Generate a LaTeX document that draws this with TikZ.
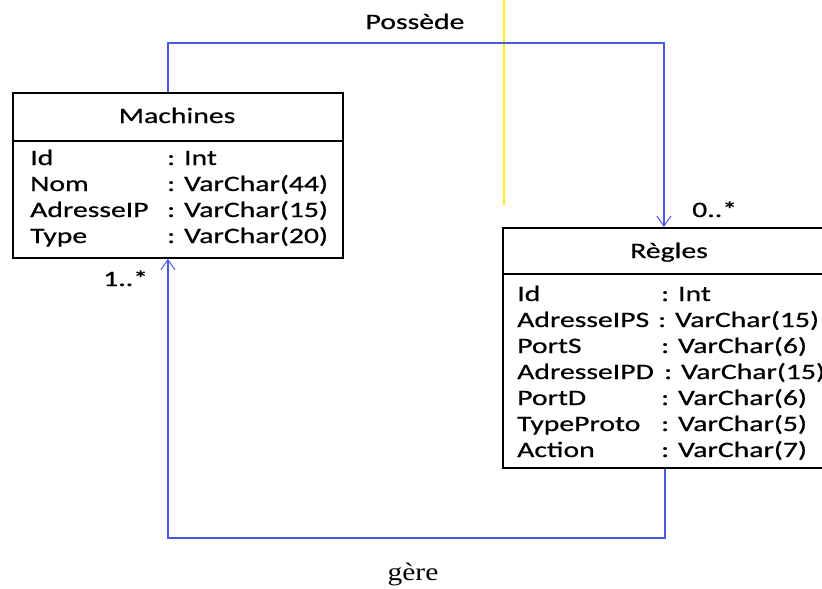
\documentclass[tikz,border=0pt]{standalone}
\usepackage{fontspec}
\newfontfamily\umlfont[FakeStretch=1.35,FakeBold=0.6]{Carlito}
\newfontfamily\captionfont[FakeStretch=1.18]{Liberation Serif}
\usetikzlibrary{arrows.meta}
\definecolor{linkblue}{RGB}{75,90,230}
\definecolor{markyellow}{RGB}{250,235,30}
\begin{document}
\begin{tikzpicture}[x=1pt,y=-1pt,
  umltext/.style={font=\umlfont\fontsize{22}{26}\selectfont, text=black, inner sep=0pt},
  attr/.style={umltext, anchor=base west},
  classtitle/.style={umltext, anchor=base},
  classbox/.style={draw=black, line width=1.8pt, minimum width=#1, anchor=north west, inner sep=0pt},
  classline/.style={draw=black, line width=1.8pt},
  link/.style={draw=linkblue, line width=1.3pt,
    -{Straight Barb[length=10pt,width=14pt,line width=1pt]}},
  yellowmark/.style={draw=markyellow, line width=1.5pt}
]
\useasboundingbox (0,0) rectangle (822,589);
\clip (0,0) rectangle (822,589);
\fill[white] (0,0) rectangle (822,589);

% stray vertical mark
\draw[yellowmark] (504,0) -- (504,205);

% class Machines
\node[classbox=330pt, minimum height=165pt] (mach) at (12,92) {};
\draw[classline] (mach.west |- 0,141) -- (mach.east |- 0,141);
\node[classtitle] (machT) at (177,123) {Machines};
\node[attr] (m1a) at (30,165) {Id};
\node[attr] (m1b) at (167,165) {: Int};
\node[attr] (m2a) at (30,191) {Nom};
\node[attr] (m2b) at (167,191) {: VarChar(44)};
\node[attr] (m3a) at (30,217) {AdresseIP};
\node[attr] (m3b) at (167,217) {: VarChar(15)};
\node[attr] (m4a) at (30,243) {Type};
\node[attr] (m4b) at (167,243) {: VarChar(20)};

% class Règles
\node[classbox=334pt, minimum height=240pt] (regl) at (502,227) {};
\draw[classline] (regl.west |- 0,274) -- (regl.east |- 0,274);
\node[classtitle] (reglT) at (669,258) {Règles};
\node[attr] (r1a) at (517,301) {Id};
\node[attr] (r1b) at (661,301) {: Int};
\node[attr] (r2a) at (517,327) {AdresseIPS};
\node[attr] (r2b) at (658,327) {: VarChar(15)};
\node[attr] (r3a) at (517,353) {PortS};
\node[attr] (r3b) at (661,353) {: VarChar(6)};
\node[attr] (r4a) at (517,379) {AdresseIPD};
\node[attr] (r4b) at (664,379) {: VarChar(15)};
\node[attr] (r5a) at (517,405) {PortD};
\node[attr] (r5b) at (661,405) {: VarChar(6)};
\node[attr] (r6a) at (517,431) {TypeProto};
\node[attr] (r6b) at (661,431) {: VarChar(5)};
\node[attr] (r7a) at (517,457) {Action};
\node[attr] (r7b) at (661,457) {: VarChar(7)};

% associations
\coordinate (topbend) at (415,43);
\coordinate (botbend) at (415,538);
\draw[link] ([xshift=-10pt]mach.north) |- (topbend) -| ([xshift=-6pt]regl.north);
\draw[link] ([xshift=-5pt]regl.south) |- (botbend) -| ([xshift=-10pt]mach.south);

% association labels and multiplicities
\node[classtitle] (possede) at (415,29) {Possède};
\node[attr] (multR) at (692,217) {0..*};
\node[attr] (multM) at (103,286) {1..*};
\node[inner sep=0pt, anchor=base, font=\captionfont\fontsize{25}{29}\selectfont] (gere) at (413,580) {gère};
\end{tikzpicture}
\end{document}
